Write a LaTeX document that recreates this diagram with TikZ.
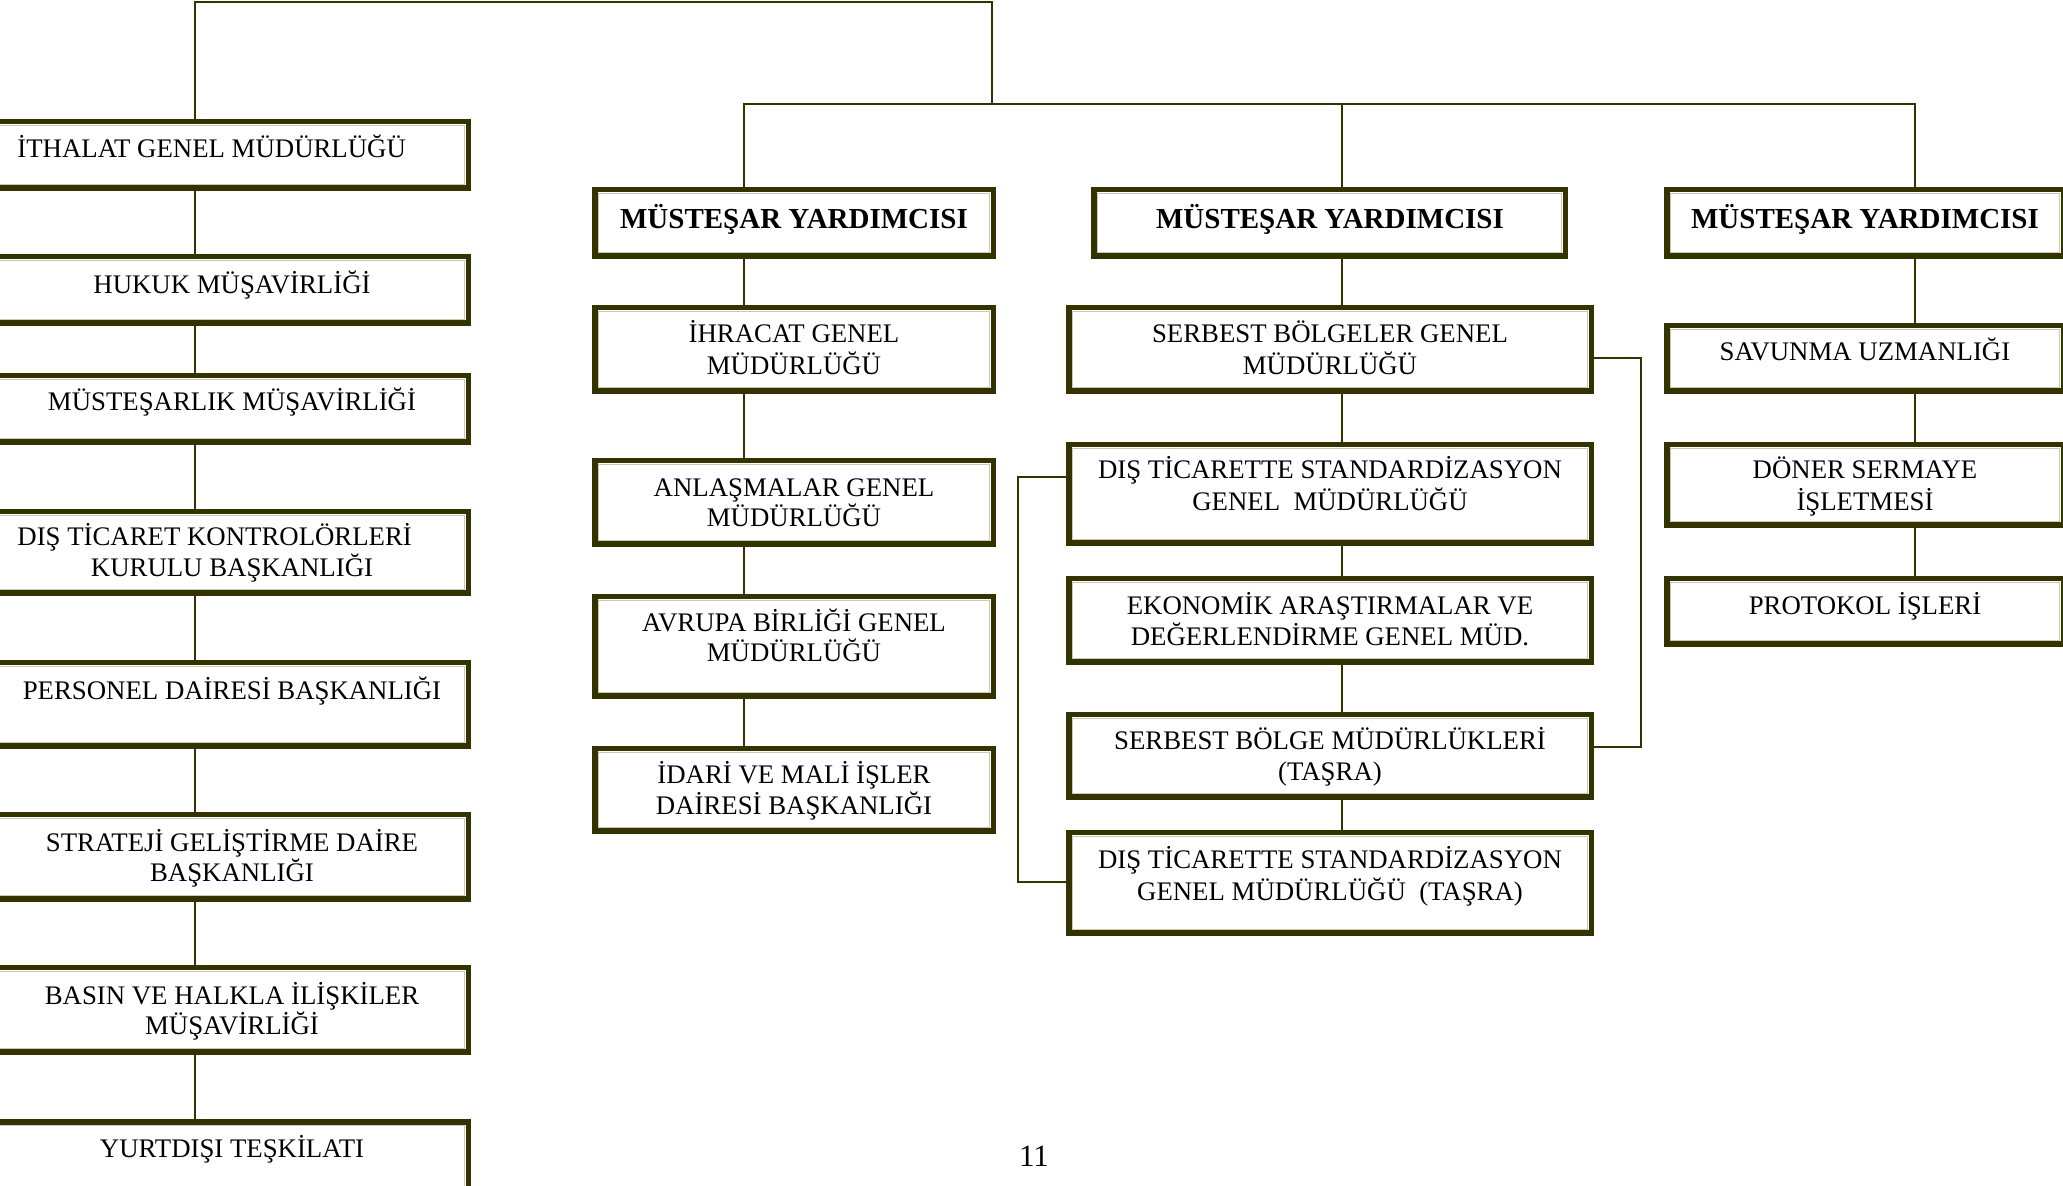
\documentclass[tikz,border=0pt]{standalone}
\usepackage{fontspec}
\setmainfont{Liberation Serif}
\definecolor{olv}{HTML}{333300}
\definecolor{olvlight}{HTML}{C8C8B4}
\tikzset{
  orgbox/.style={draw=olv, line width=2.75pt, fill=white, inner sep=0pt, outer sep=0pt},
  conn/.style={draw=olv, line width=0.85pt},
  txt/.style={font=\fontsize{13.4}{15}\selectfont, inner sep=0pt, anchor=base},
  btxt/.style={font=\fontsize{14.5}{17}\selectfont\bfseries, inner sep=0pt, anchor=base},
}
% name, outer x1, y1, x2, y2 in pixels
\newcommand\mkbox[5]{%
  \pgfmathsetmacro\bw{(#4-#2-5.5)*0.5}%
  \pgfmathsetmacro\bh{(#5-#3-5.5)*0.5}%
  \node[orgbox, minimum width=\bw pt, minimum height=\bh pt] (#1) at ({(#2+#4)/2},{(#3+#5)/2}) {};
  \draw[olvlight, line width=0.5pt] ([shift={(1.65pt,-1.65pt)}]#1.north west) rectangle ([shift={(-1.65pt,1.65pt)}]#1.south east);
}
\begin{document}
\begin{tikzpicture}[x=0.5pt,y=-0.5pt]
\useasboundingbox (0,0) rectangle (2063,1186);
\fill[white] (0,0) rectangle (2063,1186);

% column coordinates
\coordinate (cL) at (195,0);
\coordinate (c2) at (744,0);
\coordinate (c3) at (1342,0);
\coordinate (c4) at (1915,0);
\coordinate (topR) at (992,2);
\coordinate (hub) at (992,104);
\coordinate (rb1) at (1641,358);
\coordinate (rb2) at (1641,747);
\coordinate (lb1) at (1018,477);
\coordinate (lb2) at (1018,882);

% left column
\mkbox{ithalat}{-7}{119}{471}{191}
\mkbox{hukuk}{-7}{254}{471}{326}
\mkbox{mmus}{-7}{373}{471}{445}
\mkbox{dtk}{-7}{509}{471}{596}
\mkbox{pers}{-7}{660}{471}{749}
\mkbox{strat}{-7}{812}{471}{902}
\mkbox{basin}{-7}{965}{471}{1055}
\mkbox{yurt}{-7}{1119}{471}{1196}

% column 2
\mkbox{my2}{592}{187}{996}{259}
\mkbox{ihr}{592}{305}{996}{394}
\mkbox{anl}{592}{458}{996}{547}
\mkbox{avr}{592}{594}{996}{699}
\mkbox{idr}{592}{746}{996}{834}

% column 3
\mkbox{my3}{1091}{187}{1568}{259}
\mkbox{sbgm}{1066}{305}{1594}{394}
\mkbox{dts}{1066}{442}{1594}{546}
\mkbox{eko}{1066}{576}{1594}{665}
\mkbox{sbm}{1066}{712}{1594}{800}
\mkbox{dtst}{1066}{830}{1594}{936}

% column 4
\mkbox{my4}{1664}{187}{2066}{259}
\mkbox{sav}{1664}{323}{2066}{394}
\mkbox{don}{1664}{442}{2066}{528}
\mkbox{prot}{1664}{576}{2066}{647}

% connectors: top
\draw[conn] (ithalat.north -| cL) -- (cL |- topR) -- (topR) -- (hub);
\draw[conn] (my2.north -| c2) |- (hub);
\draw[conn] (hub) -| (my4.north -| c4);
\draw[conn] (my3.north -| c3) -- (c3 |- hub);

% left column chain
\draw[conn] (ithalat.south -| cL) -- (hukuk.north -| cL);
\draw[conn] (hukuk.south -| cL) -- (mmus.north -| cL);
\draw[conn] (mmus.south -| cL) -- (dtk.north -| cL);
\draw[conn] (dtk.south -| cL) -- (pers.north -| cL);
\draw[conn] (pers.south -| cL) -- (strat.north -| cL);
\draw[conn] (strat.south -| cL) -- (basin.north -| cL);
\draw[conn] (basin.south -| cL) -- (yurt.north -| cL);

% column 2 chain
\draw[conn] (my2.south -| c2) -- (ihr.north -| c2);
\draw[conn] (ihr.south -| c2) -- (anl.north -| c2);
\draw[conn] (anl.south -| c2) -- (avr.north -| c2);
\draw[conn] (avr.south -| c2) -- (idr.north -| c2);

% column 3 chain
\draw[conn] (my3.south -| c3) -- (sbgm.north -| c3);
\draw[conn] (sbgm.south -| c3) -- (dts.north -| c3);
\draw[conn] (dts.south -| c3) -- (eko.north -| c3);
\draw[conn] (eko.south -| c3) -- (sbm.north -| c3);
\draw[conn] (sbm.south -| c3) -- (dtst.north -| c3);
\draw[conn] (sbgm.east |- rb1) -- (rb1) -- (rb2) -- (sbm.east |- rb2);
\draw[conn] (dts.west |- lb1) -- (lb1) -- (lb2) -- (dtst.west |- lb2);

% column 4 chain
\draw[conn] (my4.south -| c4) -- (sav.north -| c4);
\draw[conn] (sav.south -| c4) -- (don.north -| c4);
\draw[conn] (don.south -| c4) -- (prot.north -| c4);

% texts: left column
\node[txt, anchor=base west] (t1) at (17,158) {İTHALAT GENEL MÜDÜRLÜĞÜ};
\node[txt] (t2) at (232,294) {HUKUK MÜŞAVİRLİĞİ};
\node[txt] (t3) at (232,411) {MÜSTEŞARLIK MÜŞAVİRLİĞİ};
\node[txt, anchor=base west] (t4a) at (17,546) {DIŞ TİCARET KONTROLÖRLERİ};
\node[txt] (t4b) at (232,577) {KURULU BAŞKANLIĞI};
\node[txt] (t5) at (232,700) {PERSONEL DAİRESİ BAŞKANLIĞI};
\node[txt] (t6a) at (232,852) {STRATEJİ GELİŞTİRME DAİRE};
\node[txt] (t6b) at (232,882) {BAŞKANLIĞI};
\node[txt] (t7a) at (232,1005) {BASIN VE HALKLA İLİŞKİLER};
\node[txt] (t7b) at (232,1035) {MÜŞAVİRLİĞİ};
\node[txt] (t8) at (232,1157) {YURTDIŞI TEŞKİLATI};

% column 2 texts
\node[btxt] (u1) at (794,229) {MÜSTEŞAR YARDIMCISI};
\node[txt] (u2a) at (794,343) {İHRACAT GENEL};
\node[txt] (u2b) at (794,375) {MÜDÜRLÜĞÜ};
\node[txt] (u3a) at (794,497) {ANLAŞMALAR GENEL};
\node[txt] (u3b) at (794,527) {MÜDÜRLÜĞÜ};
\node[txt] (u4a) at (794,632) {AVRUPA BİRLİĞİ GENEL};
\node[txt] (u4b) at (794,662) {MÜDÜRLÜĞÜ};
\node[txt] (u5a) at (794,784) {İDARİ VE MALİ İŞLER};
\node[txt] (u5b) at (794,815) {DAİRESİ BAŞKANLIĞI};

% column 3 texts
\node[btxt] (v1) at (1330,229) {MÜSTEŞAR YARDIMCISI};
\node[txt] (v2a) at (1330,343) {SERBEST BÖLGELER GENEL};
\node[txt] (v2b) at (1330,375) {MÜDÜRLÜĞÜ};
\node[txt] (v3a) at (1330,479) {DIŞ TİCARETTE STANDARDİZASYON};
\node[txt] (v3b) at (1330,511) {GENEL\ \ MÜDÜRLÜĞÜ};
\node[txt] (v4a) at (1330,615) {EKONOMİK ARAŞTIRMALAR VE};
\node[txt] (v4b) at (1330,646) {DEĞERLENDİRME GENEL MÜD.};
\node[txt] (v5a) at (1330,750) {SERBEST BÖLGE MÜDÜRLÜKLERİ};
\node[txt] (v5b) at (1330,781) {(TAŞRA)};
\node[txt] (v6a) at (1330,869) {DIŞ TİCARETTE STANDARDİZASYON};
\node[txt] (v6b) at (1330,901) {GENEL MÜDÜRLÜĞÜ\ \ (TAŞRA)};

% column 4 texts
\node[btxt] (w1) at (1865,229) {MÜSTEŞAR YARDIMCISI};
\node[txt] (w2) at (1865,361) {SAVUNMA UZMANLIĞI};
\node[txt] (w3a) at (1865,479) {DÖNER SERMAYE};
\node[txt] (w3b) at (1865,511) {İŞLETMESİ};
\node[txt] (w4) at (1865,615) {PROTOKOL İŞLERİ};

% page number
\node[txt, font=\fontsize{15.5}{18}\selectfont] (pg) at (1034,1166) {11};
\end{tikzpicture}
\end{document}
